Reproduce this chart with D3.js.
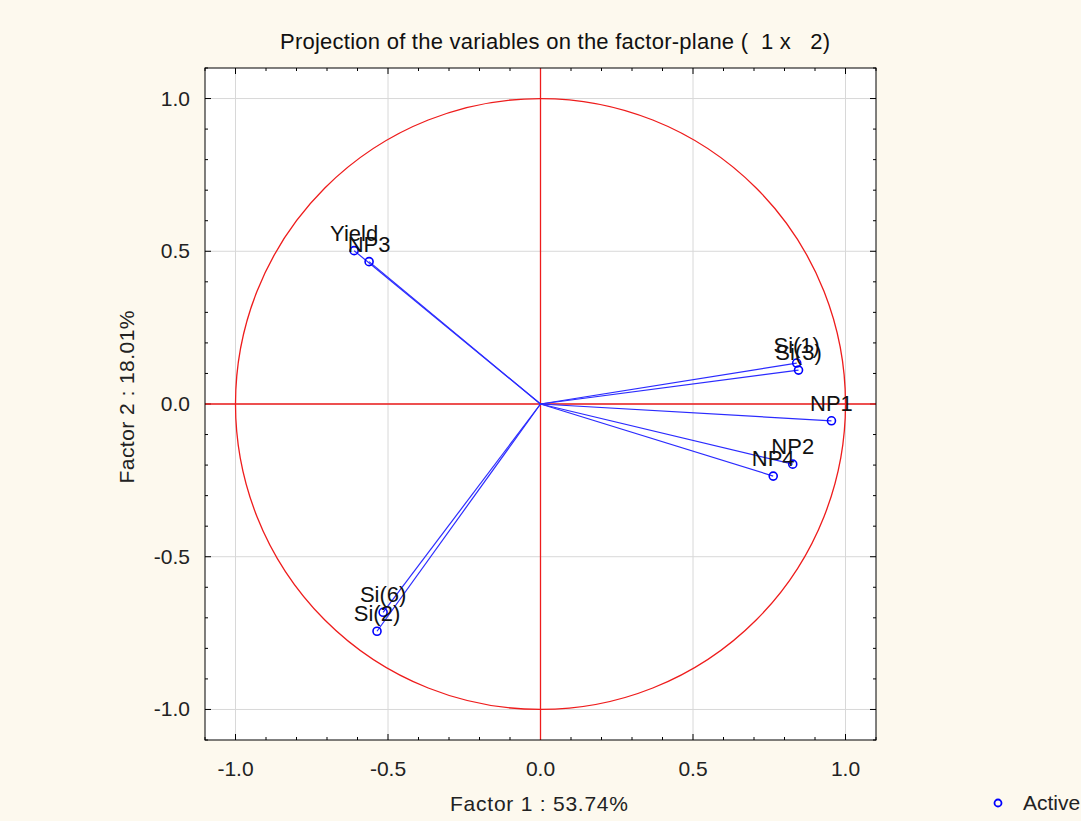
<!DOCTYPE html>
<html>
<head>
<meta charset="utf-8">
<script src="https://cdn.jsdelivr.net/npm/d3@7"></script>
<style>
	body { margin: 0; background: #fdf9ee; }
	svg { display: block; font-family: "Liberation Sans", Arial, sans-serif; }
	text { white-space: pre; }
</style>
</head>
<body>
<svg id="chart" width="1081" height="821"></svg>
<script>
// variable names and their coordinates on factor 1 and factor 2
var names = ["Yield", "NP3", "Si(1)", "Si(3)", "NP1", "NP2", "NP4", "Si(6)", "Si(2)"];
var factor1 = [-0.611, -0.562, 0.840, 0.846, 0.954, 0.827, 0.763, -0.516, -0.536];
var factor2 = [0.502, 0.466, 0.134, 0.111, -0.055, -0.197, -0.236, -0.682, -0.744];
var ticks = [-1.0, -0.5, 0.0, 0.5, 1.0];
var minorTicks = d3.range(-11, 12).map(function(d) { return d / 10; });

var svg = d3.select("#chart"),
	pLeft = 205, pRight = 876, pTop = 68, pBottom = 740;

var x = d3.scaleLinear().domain([-1.1, 1.1]).range([pLeft, pRight]);
var y = d3.scaleLinear().domain([-1.1, 1.1]).range([pBottom, pTop]);
var fmt = function(d) { return d3.format(".1f")(d).replace("\u2212", "-"); };

svg.append("rect")
	.attr("x", pLeft).attr("y", pTop)
	.attr("width", pRight - pLeft).attr("height", pBottom - pTop)
	.attr("fill", "#fff");

// grid
svg.append("g").selectAll("line")
	.data(ticks).enter().append("line")
	.attr("x1", function(d) { return x(d); }).attr("x2", function(d) { return x(d); })
	.attr("y1", pTop).attr("y2", pBottom)
	.attr("stroke", "#d8d8d8");
svg.append("g").selectAll("line")
	.data(ticks).enter().append("line")
	.attr("y1", function(d) { return y(d); }).attr("y2", function(d) { return y(d); })
	.attr("x1", pLeft).attr("x2", pRight)
	.attr("stroke", "#d8d8d8");

// ticks inside the frame
function isMajor(d) { return Math.abs(d * 2 - Math.round(d * 2)) < 1e-6; }
var tk = svg.append("g").attr("stroke", "#000").attr("stroke-width", 1);
minorTicks.forEach(function(d) {
	var len = isMajor(d) ? 6 : 3;
	tk.append("line").attr("x1", x(d)).attr("x2", x(d)).attr("y1", pBottom).attr("y2", pBottom - len);
	tk.append("line").attr("x1", x(d)).attr("x2", x(d)).attr("y1", pTop).attr("y2", pTop + len);
	tk.append("line").attr("y1", y(d)).attr("y2", y(d)).attr("x1", pLeft).attr("x2", pLeft + len);
	tk.append("line").attr("y1", y(d)).attr("y2", y(d)).attr("x1", pRight).attr("x2", pRight - len);
});

// unit circle and red axes
svg.append("ellipse")
	.attr("cx", x(0)).attr("cy", y(0))
	.attr("rx", x(1) - x(0)).attr("ry", y(0) - y(1))
	.attr("fill", "none").attr("stroke", "#ee1c1c").attr("stroke-width", 1.3);
svg.append("line")
	.attr("x1", x(0)).attr("x2", x(0)).attr("y1", pTop).attr("y2", pBottom)
	.attr("stroke", "#ee1c1c").attr("stroke-width", 1.3);
svg.append("line")
	.attr("x1", pLeft).attr("x2", pRight).attr("y1", y(0)).attr("y2", y(0))
	.attr("stroke", "#ee1c1c").attr("stroke-width", 1.3);

// vectors
var idx = d3.range(names.length);
svg.append("g").selectAll("line")
	.data(idx).enter().append("line")
	.attr("x1", x(0)).attr("y1", y(0))
	.attr("x2", function(i) { return x(factor1[i]); })
	.attr("y2", function(i) { return y(factor2[i]); })
	.attr("stroke", "#2b2bff").attr("stroke-width", 1.2);
svg.append("g").selectAll("circle")
	.data(idx).enter().append("circle")
	.attr("cx", function(i) { return x(factor1[i]); })
	.attr("cy", function(i) { return y(factor2[i]); })
	.attr("r", 4)
	.attr("fill", "none").attr("stroke", "#0000ff").attr("stroke-width", 1.6);
svg.append("g").selectAll("text")
	.data(idx).enter().append("text")
	.attr("x", function(i) { return x(factor1[i]); })
	.attr("y", function(i) { return y(factor2[i]) - 10; })
	.attr("text-anchor", "middle")
	.attr("font-size", 22)
	.attr("fill", "#111")
	.text(function(i) { return names[i]; });

// frame
svg.append("rect")
	.attr("x", pLeft).attr("y", pTop)
	.attr("width", pRight - pLeft).attr("height", pBottom - pTop)
	.attr("fill", "none").attr("stroke", "#000");

// tick labels
svg.append("g").selectAll("text")
	.data(ticks).enter().append("text")
	.attr("x", function(d) { return x(d); }).attr("y", 776)
	.attr("text-anchor", "middle").attr("font-size", 21).attr("fill", "#222")
	.text(fmt);
svg.append("g").selectAll("text")
	.data(ticks).enter().append("text")
	.attr("x", 190).attr("y", function(d) { return y(d) + 7; })
	.attr("text-anchor", "end").attr("font-size", 21).attr("fill", "#222")
	.text(fmt);

// titles
svg.append("text")
	.attr("x", 555).attr("y", 49)
	.attr("text-anchor", "middle").attr("font-size", 22).attr("fill", "#111")
	.attr("textLength", 550).attr("lengthAdjust", "spacing")
	.text("Projection of the variables on the factor-plane (  1 x   2)");
svg.append("text")
	.attr("x", 539).attr("y", 811)
	.attr("text-anchor", "middle").attr("font-size", 21).attr("fill", "#222")
	.attr("textLength", 178).attr("lengthAdjust", "spacing")
	.text("Factor 1 : 53.74%");
svg.append("text")
	.attr("transform", "translate(134,397) rotate(-90)")
	.attr("text-anchor", "middle").attr("font-size", 21).attr("fill", "#222")
	.attr("textLength", 173).attr("lengthAdjust", "spacing")
	.text("Factor 2 : 18.01%");

// legend
svg.append("circle")
	.attr("cx", 998).attr("cy", 803).attr("r", 3.5)
	.attr("fill", "none").attr("stroke", "#0000ff").attr("stroke-width", 1.8);
svg.append("text")
	.attr("x", 1023).attr("y", 810)
	.attr("font-size", 21).attr("fill", "#222")
	.text("Active");
</script>
</body>
</html>
